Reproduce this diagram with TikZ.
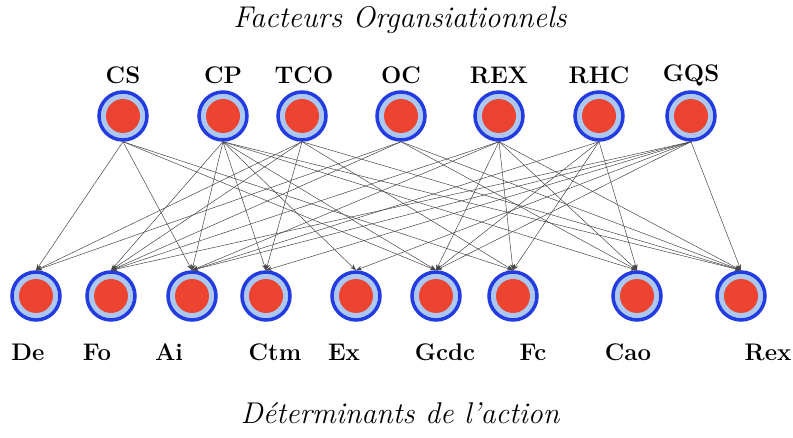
\documentclass[tikz,border=0pt]{standalone}
\usetikzlibrary{arrows.meta}
\definecolor{ringblue}{RGB}{35,60,225}
\definecolor{bandblue}{RGB}{172,200,240}
\definecolor{dotred}{RGB}{236,68,48}
\definecolor{edgegray}{RGB}{70,70,70}
\begin{document}
\begin{tikzpicture}[x=1pt,y=-1pt,
  factor/.style={circle,minimum size=48pt,inner sep=0pt,fill=bandblue,draw=ringblue,line width=3.5pt,
    path picture={\fill[dotred] (path picture bounding box.center) circle (17pt);}},
  lab/.style={font=\fontsize{24}{28}\selectfont\bfseries,inner sep=0pt},
  ttl/.style={font=\fontsize{30}{34}\selectfont\itshape,inner sep=0pt},
  link/.style={draw=edgegray,line width=0.5pt,-{Stealth[length=6pt,width=4.5pt]}}]
\useasboundingbox (0,0) rectangle (793,438);
\node[ttl] (t1) at (400,20) {Facteurs Organsiationnels};
\node[ttl] (t2) at (400,413) {D\'eterminants de l'action};
% top factors
\node[factor] (CS) at (123,116) {};
\node[factor] (CP) at (223,116) {};
\node[factor] (TCO) at (302,116) {};
\node[factor] (OC) at (401,116) {};
\node[factor] (REX) at (499,116) {};
\node[factor] (RHC) at (599,116) {};
\node[factor] (GQS) at (691,116) {};
\node[lab] (lCS) at (123,75) {CS};
\node[lab] (lCP) at (223,75) {CP};
\node[lab] (lTCO) at (304,75) {TCO};
\node[lab] (lOC) at (401,75) {OC};
\node[lab] (lREX) at (499,75) {REX};
\node[lab] (lRHC) at (599,75) {RHC};
\node[lab] (lGQS) at (691,75) {GQS};
% bottom determinants
\node[factor] (De) at (36,296) {};
\node[factor] (Fo) at (111,296) {};
\node[factor] (Ai) at (192,296) {};
\node[factor] (Ctm) at (266,296) {};
\node[factor] (Ex) at (356,296) {};
\node[factor] (Gcdc) at (436,296) {};
\node[factor] (Fc) at (513,296) {};
\node[factor] (Cao) at (637,296) {};
\node[factor] (Rex) at (741,296) {};
\node[lab] (lDe) at (28,352) {De};
\node[lab] (lFo) at (97,352) {Fo};
\node[lab] (lAi) at (169,352) {Ai};
\node[lab] (lCtm) at (275,352) {Ctm};
\node[lab] (lEx) at (344,352) {Ex};
\node[lab] (lGcdc) at (445,352) {Gcdc};
\node[lab] (lFc) at (533,352) {Fc};
\node[lab] (lCao) at (628,352) {Cao};
\node[lab] (lRex) at (768,352) {Rex};
% links
\foreach \a/\b in {CS/De,CS/Ai,CS/Gcdc,CS/Fc,
  CP/Fo,CP/Ai,CP/Ctm,CP/Ex,CP/Gcdc,CP/Cao,CP/Rex,
  TCO/De,TCO/Fo,TCO/Ctm,TCO/Fc,TCO/Rex,
  OC/De,OC/Fo,OC/Cao,OC/Rex,
  REX/Fo,REX/Ai,REX/Gcdc,REX/Fc,REX/Cao,REX/Rex,
  RHC/Ai,RHC/Gcdc,RHC/Fc,RHC/Cao,
  GQS/Fo,GQS/Ai,GQS/Ctm,GQS/Ex,GQS/Gcdc,GQS/Rex}
  \draw[link] (\a.south) -- (\b.north);
\end{tikzpicture}
\end{document}
